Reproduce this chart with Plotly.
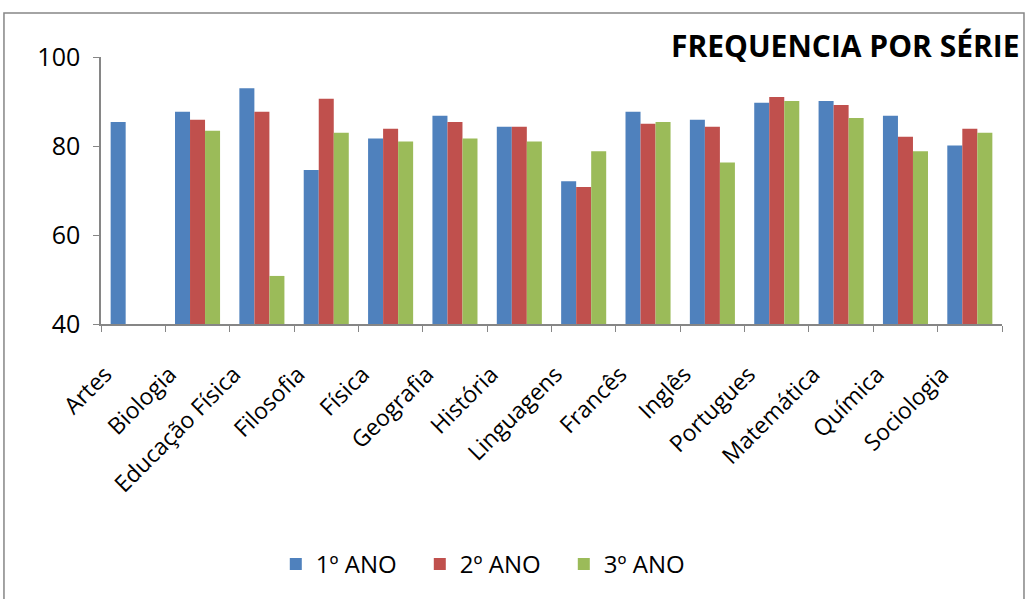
import plotly.graph_objects as go

# Disciplinas e frequência (%) por série
disciplinas = ["Artes", "Biologia", "Educação Física", "Filosofia", "Física", "Geografia",
               "História", "Linguagens", "Francês", "Inglês", "Portugues", "Matemática",
               "Química", "Sociologia"]
ano1 = [85.4, 87.7, 93.0, 74.6, 81.7, 86.8, 84.3, 72.1, 87.7, 85.9, 89.7, 90.1, 86.8, 80.1]
ano2 = [None, 85.9, 87.7, 90.6, 83.9, 85.4, 84.3, 70.8, 85.0, 84.3, 91.0, 89.2, 82.1, 83.9]
ano3 = [None, 83.4, 50.8, 83.0, 81.0, 81.7, 81.0, 78.8, 85.4, 76.3, 90.1, 86.3, 78.8, 83.0]

series = [("1º ANO", ano1, "#4F81BD"), ("2º ANO", ano2, "#C0504D"), ("3º ANO", ano3, "#9BBB59")]

FONT = "Open Sans"

fig = go.Figure()
for nome, valores, cor in series:
    # Bars start at the axis floor (40)
    fig.add_trace(go.Bar(
        x=disciplinas,
        y=[None if v is None else v - 40 for v in valores],
        base=40,
        name=nome,
        marker=dict(color=cor, line=dict(width=0)),
        hovertemplate="%{x}: %{customdata}<extra>" + nome + "</extra>",
        customdata=valores,
    ))

fig.update_layout(
    width=1027, height=599,
    barmode="group",
    bargap=0.3,
    bargroupgap=0,
    plot_bgcolor="white",
    paper_bgcolor="white",
    margin=dict(l=101, r=25, t=56.5, b=272.5),
    font=dict(family=FONT, color="#000000"),
    showlegend=True,
    legend=dict(
        orientation="h",
        x=0.194, xanchor="left",
        y=-0.90, yanchor="middle",
        font=dict(size=24, family=FONT),
        itemwidth=30,
        entrywidth=99,
        traceorder="normal",
    ),
    xaxis=dict(
        tickangle=-45,
        tickfont=dict(size=23, family=FONT),
        showline=True, linecolor="#868686", linewidth=1.5,
        ticks="outside", ticklen=6, tickcolor="#868686",
        tickson="boundaries",
        ticklabelstandoff=26,
        ticklabelshift=-28,
        showgrid=False,
    ),
    yaxis=dict(
        range=[40, 100],
        tickvals=[40, 60, 80, 100],
        tickfont=dict(size=25, family=FONT),
        showline=True, linecolor="#868686", linewidth=1.5,
        ticks="outside", ticklen=6, tickcolor="#868686",
        ticklabelstandoff=8,
        showgrid=False, zeroline=False,
    ),
    annotations=[dict(
        text="<b>FREQUENCIA POR SÉRIE</b>",
        xref="paper", yref="paper",
        x=1.0222, y=1.0426, xanchor="right", yanchor="middle",
        showarrow=False,
        font=dict(size=30, family=FONT, color="#000000"),
    )],
    shapes=[dict(
        type="rect", xref="paper", yref="paper",
        x0=-0.1077, x1=1.0244, y0=-1.05, y1=1.165,
        line=dict(color="#868686", width=1.5),
        fillcolor="rgba(0,0,0,0)", layer="below",
    )],
)

fig.write_html("out.html")
